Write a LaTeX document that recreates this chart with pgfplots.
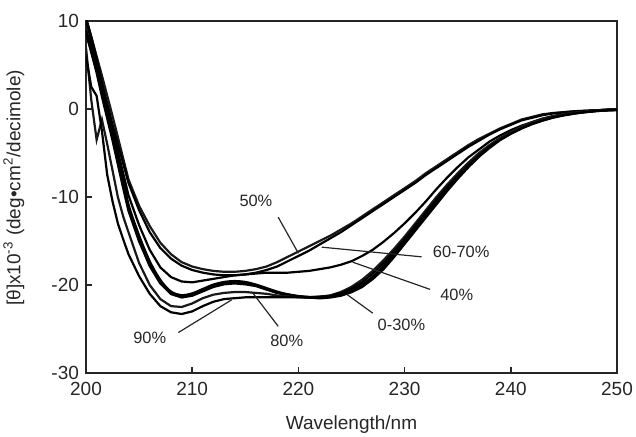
\documentclass[border=0pt]{standalone}
\usepackage{fontspec}
\setmainfont{Liberation Sans}
\usepackage{pgfplots}
\usepackage{pgfplotstable}
\pgfplotsset{compat=1.18}

% CD spectra, columns: wavelength, 50%, 60-70%, 40%, 0%, 20-30%, 80%, 90%
\pgfplotstableread{
lam   u50    u60    m40    l0     l20    p80    p90
200   10.3   9.0    8.5    10.2   9.0    7.0    6.0
200.5 8.2    7.2    6.5    8.0    6.5    1.0    2.5
201   6.0    4.8    4.5    5.5    4.2    -3.5   1.5
201.5 3.8    2.8    2.0    2.8    1.5    -1.2   -2.5
202   1.5    0.6    0.0    0.2    -1.0   -4.0   -7.5
202.5 -0.8   -1.8   -2.3   -2.5   -3.5   -7.0   -10.5
203   -3.2   -4.0   -4.8   -5.3   -6.2   -10.0  -13.0
203.5 -5.6   -6.2   -7.3   -8.1   -8.9   -12.2  -14.8
204   -8.0   -8.4   -9.8   -11.0  -11.5  -14.0  -16.5
205   -11.0  -11.5  -13.2  -14.5  -15.0  -17.5  -19.0
206   -13.3  -14.0  -16.0  -17.4  -17.8  -20.0  -21.0
207   -15.2  -15.8  -18.0  -19.5  -19.8  -21.6  -22.4
208   -16.5  -17.0  -19.1  -20.8  -21.0  -22.4  -23.1
209   -17.4  -17.8  -19.6  -21.2  -21.4  -22.5  -23.3
210   -17.9  -18.3  -19.7  -21.0  -21.2  -22.1  -23.0
211   -18.2  -18.6  -19.5  -20.5  -20.7  -21.5  -22.4
212   -18.4  -18.8  -19.3  -20.0  -20.2  -21.1  -21.9
213   -18.5  -18.9  -19.1  -19.7  -19.9  -20.9  -21.6
214   -18.5  -18.9  -18.9  -19.6  -19.8  -20.8  -21.5
215   -18.4  -18.8  -18.8  -19.7  -19.9  -20.8  -21.4
216   -18.2  -18.6  -18.7  -20.0  -20.1  -20.9  -21.4
217   -17.9  -18.3  -18.6  -20.4  -20.5  -21.0  -21.4
218   -17.4  -17.9  -18.6  -20.8  -20.9  -21.2  -21.4
219   -16.8  -17.3  -18.6  -21.1  -21.1  -21.3  -21.4
220   -16.2  -16.7  -18.5  -21.3  -21.3  -21.4  -21.4
221   -15.6  -16.1  -18.4  -21.4  -21.4  -21.4  -21.4
222   -15.0  -15.4  -18.2  -21.4  -21.5  -21.3  -21.4
223   -14.4  -14.7  -18.0  -21.3  -21.4  -21.2  -21.2
224   -13.7  -14.0  -17.7  -21.0  -21.2  -20.8  -20.9
225   -13.0  -13.2  -17.3  -20.6  -20.8  -20.2  -20.4
226   -12.2  -12.4  -16.7  -20.0  -20.2  -19.4  -19.7
227   -11.4  -11.6  -16.0  -19.1  -19.3  -18.4  -18.7
228   -10.6  -10.8  -15.1  -17.9  -18.2  -17.2  -17.5
229   -9.8   -10.0  -14.1  -16.5  -16.8  -15.9  -16.2
230   -9.0   -9.2   -13.0  -15.0  -15.3  -14.5  -14.8
231   -8.2   -8.4   -11.8  -13.5  -13.8  -13.0  -13.3
232   -7.3   -7.5   -10.5  -12.0  -12.3  -11.5  -11.8
233   -6.5   -6.7   -9.1   -10.5  -10.8  -10.0  -10.3
234   -5.7   -5.9   -7.8   -9.0   -9.3   -8.6   -8.9
235   -4.9   -5.1   -6.6   -7.6   -7.9   -7.3   -7.6
236   -4.1   -4.3   -5.5   -6.3   -6.6   -6.1   -6.4
237   -3.4   -3.6   -4.6   -5.2   -5.4   -5.0   -5.3
238   -2.8   -2.9   -3.7   -4.2   -4.4   -4.1   -4.3
239   -2.2   -2.3   -3.0   -3.4   -3.5   -3.3   -3.5
240   -1.7   -1.8   -2.4   -2.7   -2.8   -2.6   -2.8
241   -1.2   -1.3   -1.9   -2.1   -2.2   -2.0   -2.2
242   -0.9   -1.0   -1.5   -1.6   -1.7   -1.5   -1.7
243   -0.6   -0.7   -1.1   -1.2   -1.3   -1.1   -1.3
244   -0.45  -0.5   -0.8   -0.9   -0.95  -0.8   -0.95
245   -0.35  -0.38  -0.6   -0.65  -0.7   -0.6   -0.7
246   -0.25  -0.28  -0.4   -0.45  -0.5   -0.4   -0.5
247   -0.2   -0.2   -0.3   -0.3   -0.35  -0.28  -0.35
248   -0.15  -0.15  -0.2   -0.2   -0.22  -0.18  -0.22
249   -0.1   -0.1   -0.12  -0.12  -0.14  -0.1   -0.14
250   -0.05  -0.05  -0.08  -0.08  -0.09  -0.06  -0.09
}\cddata

\begin{document}
\begin{tikzpicture}
\begin{axis}[
    name=ax,
    scale only axis,
    width=265.5pt, height=176pt,
    xmin=200, xmax=250, ymin=-30, ymax=10,
    xtick={200,210,...,250},
    ytick={-30,-20,...,10},
    tick pos=left,
    tick align=inside,
    major tick length=3pt,
    axis line style={line width=1pt, black!85},
    every tick/.style={line width=0.8pt, black!85},
    tick label style={font=\fontsize{9.5}{11}\selectfont, black!85},
    /pgf/number format/assume math mode=true,
    xticklabel style={yshift=-1pt},
    xlabel={Wavelength/nm},
    ylabel={[θ]x10\textsuperscript{-3} (deg•cm\textsuperscript{2}/decimole)},
    label style={font=\fontsize{9.5}{11}\selectfont, black!85},
    xlabel style={at={(axis description cs:0.5,-0.148)}, anchor=center},
    ylabel style={at={(axis description cs:-0.136,0.526)}, anchor=center},
    cycle list={{black!90, solid, mark=none, smooth, tension=0.3}},
    every axis plot/.append style={line width=1.1pt},
]
\addplot table[x=lam, y=u50] {\cddata};
\addplot table[x=lam, y=u60] {\cddata};
\addplot table[x=lam, y=m40] {\cddata};
\addplot+[line width=1.5pt] table[x=lam, y=l0] {\cddata};
\addplot+[line width=1.3pt] table[x=lam, y=l20] {\cddata};
\addplot table[x=lam, y=p80] {\cddata};
\addplot table[x=lam, y=p90] {\cddata};

% label leader lines
\begin{scope}[line width=0.6pt, black!85]
\draw (axis cs:218.1,-12.3) -- (axis cs:220,-16.4);
\draw (axis cs:222.2,-15.7) -- (axis cs:231.6,-16.8);
\draw (axis cs:225.1,-17.4) -- (axis cs:232.4,-20.5);
\draw (axis cs:224.6,-21.1) -- (axis cs:227.0,-23.2);
\draw (axis cs:215.7,-20.9) -- (axis cs:218.1,-24.7);
\draw (axis cs:213.7,-21.7) -- (axis cs:208.7,-25.4);
\end{scope}
\begin{scope}[every node/.style={font=\fontsize{8.2}{10}\selectfont, black!85}]
\node at (axis cs:216.0,-10.4) {50\%};
\node[anchor=west] at (axis cs:232.0,-16.2) {60-70\%};
\node[anchor=west] at (axis cs:232.7,-21.1) {40\%};
\node at (axis cs:229.7,-24.5) {0-30\%};
\node at (axis cs:218.9,-26.3) {80\%};
\node at (axis cs:206.0,-26.0) {90\%};
\end{scope}
\end{axis}
\pgfresetboundingbox
\path ([shift={(-43pt,-32pt)}]ax.south west) rectangle ([shift={(9.5pt,10.5pt)}]ax.north east);
\end{tikzpicture}
\end{document}
